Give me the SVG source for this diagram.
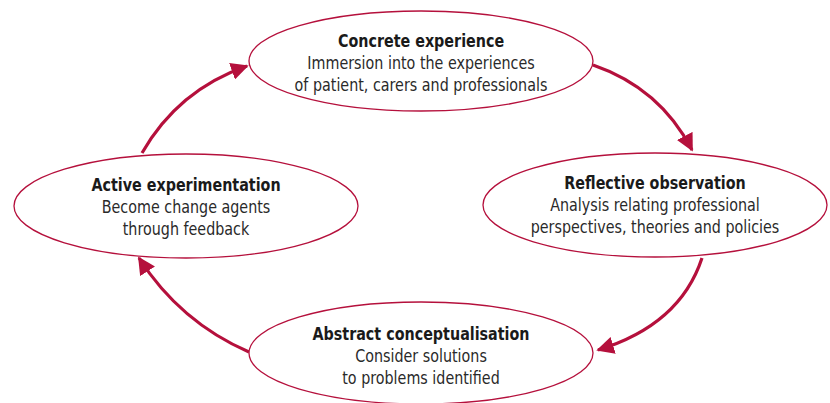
<svg xmlns="http://www.w3.org/2000/svg" width="830" height="403" viewBox="0 0 830 403">
<style>
.node ellipse{fill:#fff;stroke:#b5103c;stroke-width:1.3}
text{font-family:"DejaVu Sans Condensed","Liberation Sans Narrow","Liberation Sans",sans-serif;font-size:18.5px;fill:#2a2a2a;text-anchor:middle}
.t{font-weight:bold;fill:#1a1a1a}
.conn path{fill:none;stroke:#b5103c;stroke-width:3.2}
</style>
<defs>
<marker id="ah" viewBox="0 0 10 10" refX="9" refY="5" markerWidth="5.5" markerHeight="5.5" markerUnits="strokeWidth" orient="auto">
<path d="M0,0 L10,5 L0,10 z" fill="#b5103c"/>
</marker>
</defs>
<rect width="830" height="403" fill="#fff"/>
<g class="conn">
<path d="M593,65 Q660,88 692,150" marker-end="url(#ah)"/>
<path d="M702,258 Q680,325 598,350" marker-end="url(#ah)"/>
<path d="M249,352 Q180,322 139,258" marker-end="url(#ah)"/>
<path d="M142,153 Q178,90 247,66" marker-end="url(#ah)"/>
</g>
<g id="concrete" class="node">
<ellipse cx="421" cy="61" rx="172" ry="50"/>
<g transform="translate(421,0) scale(0.86,1)">
<text x="0" y="47" class="t">Concrete experience</text>
<text x="0" y="69">Immersion into the experiences</text>
<text x="0" y="91">of patient, carers and professionals</text>
</g>
</g>
<g id="reflective" class="node">
<ellipse cx="655" cy="205" rx="172" ry="52"/>
<g transform="translate(655,0) scale(0.86,1)">
<text x="0" y="189" class="t">Reflective observation</text>
<text x="0" y="211">Analysis relating professional</text>
<text x="0" y="233">perspectives, theories and policies</text>
</g>
</g>
<g id="abstract" class="node">
<ellipse cx="421" cy="353" rx="172" ry="51"/>
<g transform="translate(421,0) scale(0.86,1)">
<text x="0" y="340" class="t">Abstract conceptualisation</text>
<text x="0" y="362">Consider solutions</text>
<text x="0" y="384">to problems identified</text>
</g>
</g>
<g id="active" class="node">
<ellipse cx="186" cy="206" rx="172" ry="52"/>
<g transform="translate(186,0) scale(0.86,1)">
<text x="0" y="191" class="t">Active experimentation</text>
<text x="0" y="213">Become change agents</text>
<text x="0" y="235">through feedback</text>
</g>
</g>
</svg>
